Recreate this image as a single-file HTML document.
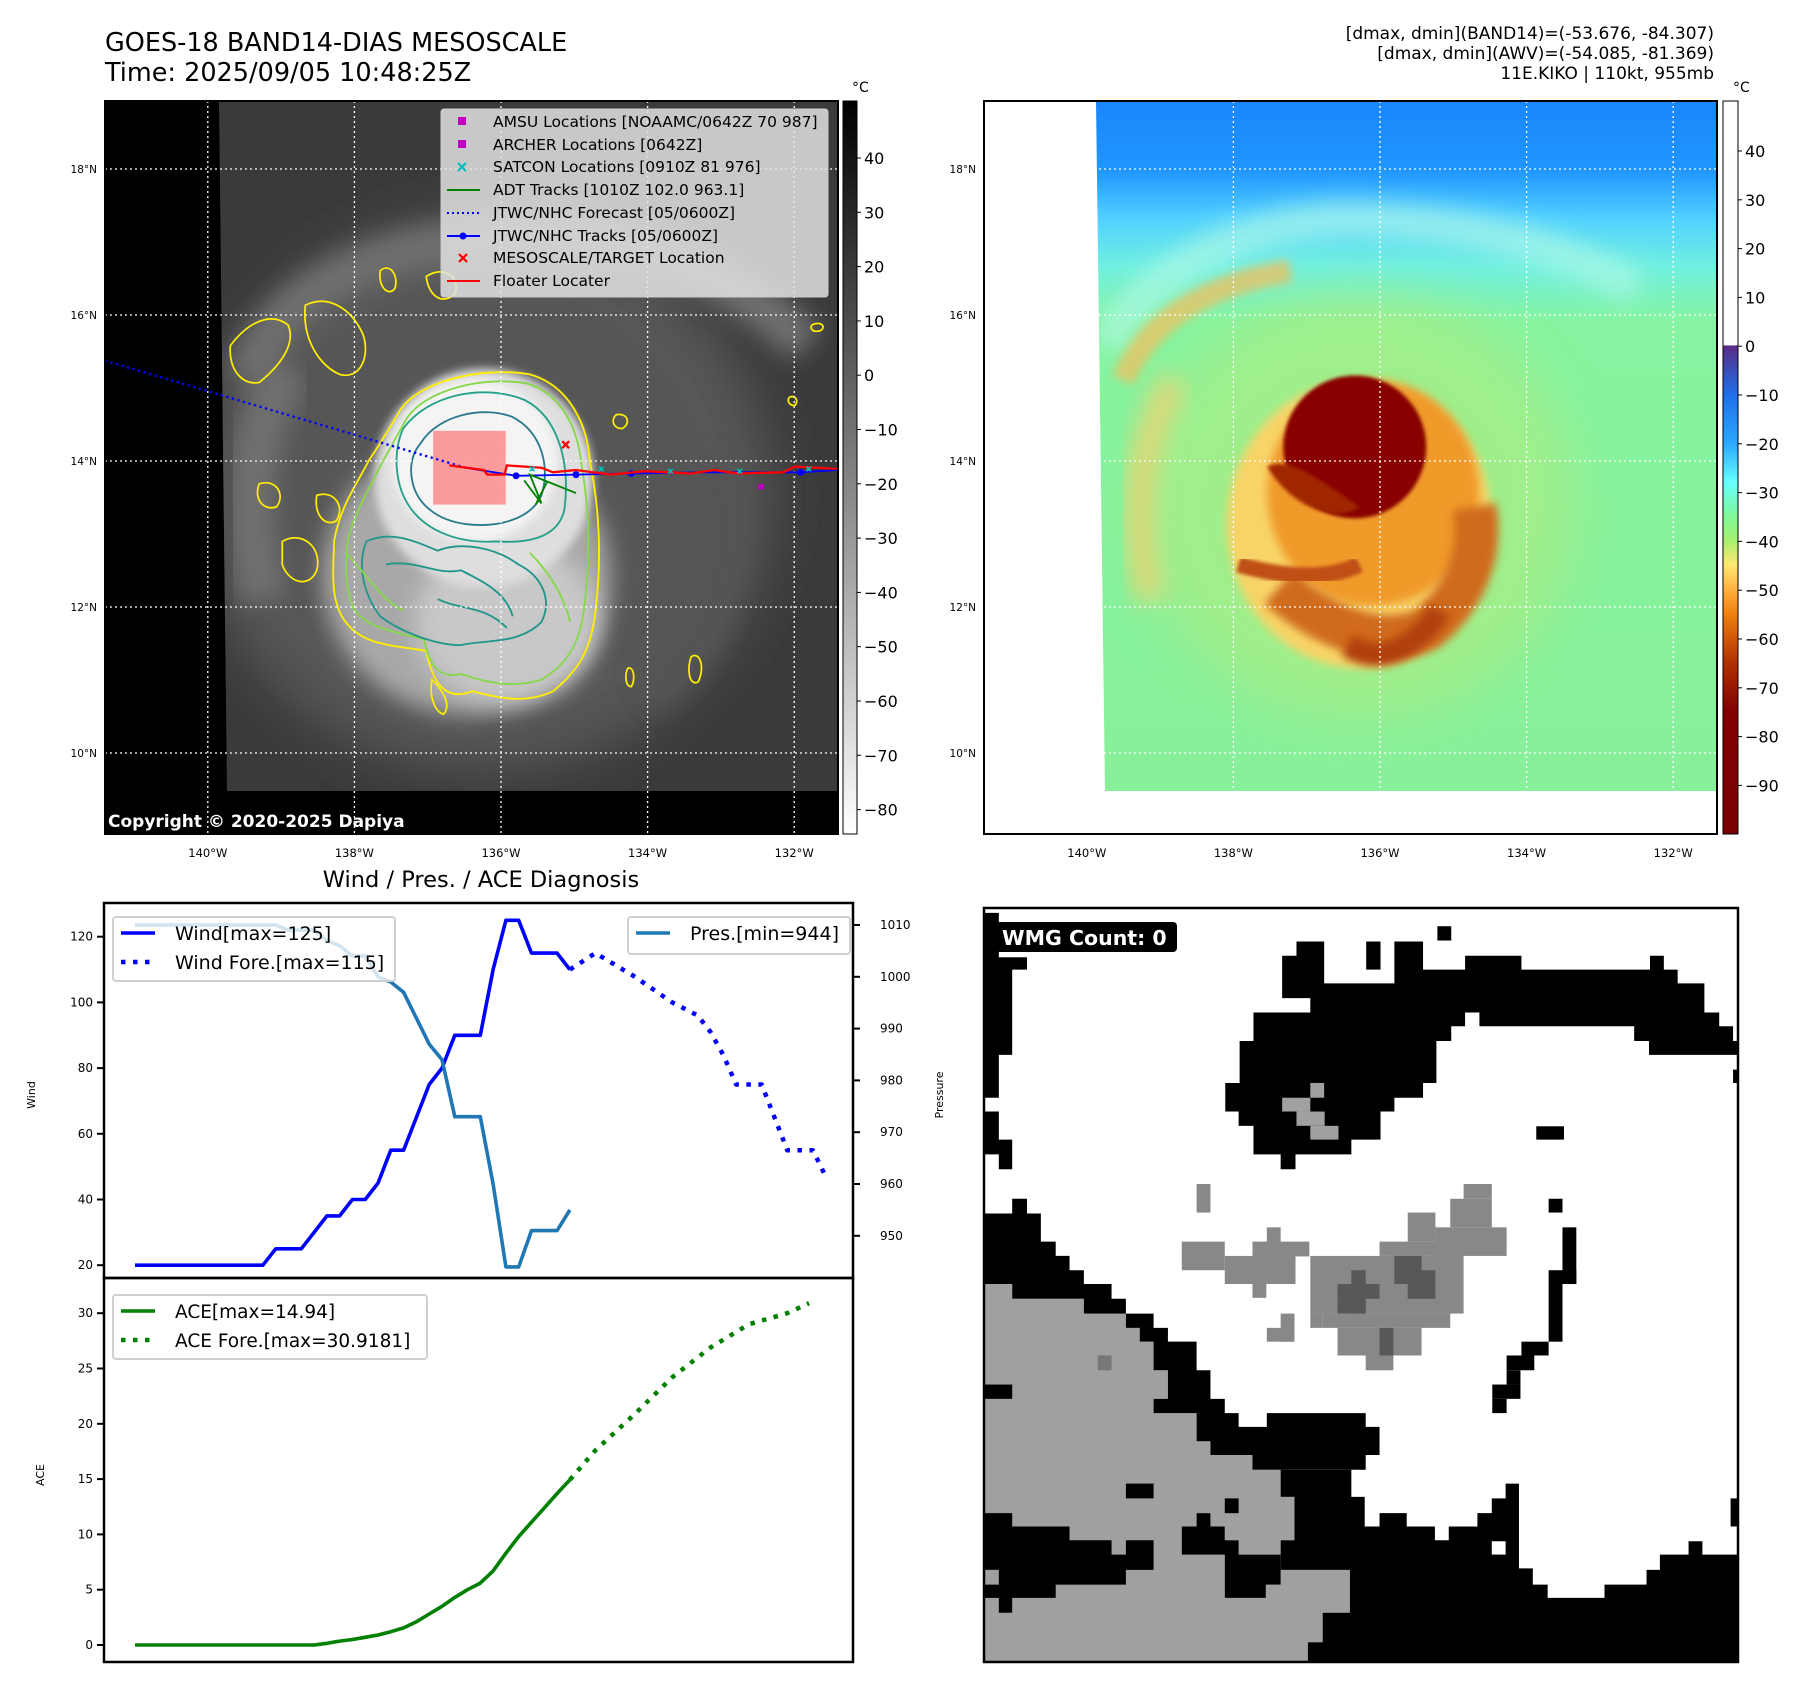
<!DOCTYPE html>
<html><head><meta charset="utf-8"><style>
html,body{margin:0;padding:0;background:#fff;}
svg{display:block;font-family:"DejaVu Sans","Liberation Sans",sans-serif;}
</style></head><body>
<svg id="root" width="1797" height="1690" viewBox="0 0 1797 1690" xmlns="http://www.w3.org/2000/svg">
<defs>
<filter id="b30" x="-50%" y="-50%" width="200%" height="200%"><feGaussianBlur stdDeviation="22"/></filter>
<filter id="b12" x="-50%" y="-50%" width="200%" height="200%"><feGaussianBlur stdDeviation="10"/></filter>
<filter id="b5" x="-50%" y="-50%" width="200%" height="200%"><feGaussianBlur stdDeviation="4"/></filter>
<filter id="b2" x="-50%" y="-50%" width="200%" height="200%"><feGaussianBlur stdDeviation="1.6"/></filter>
<linearGradient id="cb1" x1="0" y1="0" x2="0" y2="1"><stop offset="0" stop-color="#000"/><stop offset="1" stop-color="#fff"/></linearGradient>
<linearGradient id="cb2" x1="0" y1="0" x2="0" y2="1">
<stop offset="0" stop-color="#fff"/><stop offset="0.333" stop-color="#fdfdfd"/>
<stop offset="0.334" stop-color="#5a2a86"/><stop offset="0.40" stop-color="#1f6fe8"/>
<stop offset="0.467" stop-color="#2aa8ff"/><stop offset="0.52" stop-color="#66ffff"/>
<stop offset="0.567" stop-color="#80f898"/><stop offset="0.60" stop-color="#a8f070"/>
<stop offset="0.633" stop-color="#ffe870"/><stop offset="0.667" stop-color="#ffb040"/>
<stop offset="0.70" stop-color="#f08010"/><stop offset="0.767" stop-color="#b03000"/>
<stop offset="0.833" stop-color="#820000"/><stop offset="1" stop-color="#7a0000"/></linearGradient>
<linearGradient id="sky2" x1="0" y1="0" x2="0" y2="1">
<stop offset="0" stop-color="#1a86fb"/><stop offset="0.10" stop-color="#2096ff"/>
<stop offset="0.17" stop-color="#50d0ff"/><stop offset="0.24" stop-color="#70f0e0"/>
<stop offset="0.32" stop-color="#86f4a0"/><stop offset="1" stop-color="#88f09a"/></linearGradient>
<clipPath id="clip1"><polygon points="219,101 838,101 838,791 227,791"/></clipPath>
<clipPath id="clip2"><polygon points="1096,101 1716,101 1716,791 1105,791"/></clipPath>
</defs>

<text x="105" y="51" font-size="25.5">GOES-18 BAND14-DIAS MESOSCALE</text>
<text x="105" y="81" font-size="25.5">Time: 2025/09/05 10:48:25Z</text>
<g font-size="17" text-anchor="end">
<text x="1714" y="39">[dmax, dmin](BAND14)=(-53.676, -84.307)</text>
<text x="1714" y="59">[dmax, dmin](AWV)=(-54.085, -81.369)</text>
<text x="1714" y="79">11E.KIKO | 110kt, 955mb</text>
</g>

<!-- MAP 1 -->
<g>
<rect x="105" y="101" width="733" height="733" fill="#000"/>
<g clip-path="url(#clip1)">
<rect x="219" y="101" width="620" height="690" fill="#3a3a3a"/>
<g transform="scale(1.152)">
<ellipse cx="420" cy="430" rx="250" ry="240" fill="#575757" filter="url(#b30)"/>
<path d="M215,330 C240,250 330,210 460,205 C560,205 640,240 700,300" fill="none" stroke="#6e6e6e" stroke-width="38" filter="url(#b12)"/>
<path d="M230,520 C210,450 215,380 250,320" fill="none" stroke="#707070" stroke-width="40" filter="url(#b12)"/>
<path d="M560,600 C620,560 640,480 620,400" fill="none" stroke="#555" stroke-width="40" filter="url(#b12)"/>
<ellipse cx="405" cy="500" rx="125" ry="120" fill="#a8a8a8" filter="url(#b12)"/>
<ellipse cx="440" cy="540" rx="80" ry="70" fill="#c8c8c8" filter="url(#b12)"/>
<ellipse cx="420" cy="415" rx="95" ry="95" fill="#dedede" filter="url(#b5)"/>
<ellipse cx="412" cy="400" rx="72" ry="70" fill="#f4f4f4" filter="url(#b5)"/>
<g fill="none" stroke-width="1.6">
<path d="M345,360 C360,330 420,318 460,325 C495,335 510,370 512,400 C520,440 522,480 518,520 C515,560 505,580 480,600 C455,612 430,605 410,600 C385,610 375,590 370,565 C340,560 315,560 300,540 C285,520 290,490 290,470 C295,440 310,420 320,400 C330,385 338,372 345,360Z" stroke="#ffee00"/>
<path d="M352,365 C368,338 420,326 458,333 C490,343 502,375 505,405 C512,445 512,485 508,520 C505,555 495,575 470,590 C445,598 420,592 400,585 C380,590 372,575 368,555 C340,548 320,545 308,530 C298,510 300,485 302,468 C308,445 320,425 330,405 C338,390 345,378 352,365Z" stroke="#86d84a"/>
<path d="M350,372 C372,342 420,333 455,347 C485,362 495,402 490,442 C485,466 460,472 430,470 C400,472 372,462 357,442 C342,422 341,392 350,372Z" stroke="#25a08a"/>
<path d="M365,385 C380,360 420,352 445,362 C470,375 478,405 470,430 C460,452 430,458 405,455 C380,452 362,438 358,418 C355,405 358,393 365,385Z" stroke="#2a7a8e"/>
<path d="M318,470 C340,460 360,470 380,478 C400,470 430,475 450,490 C470,500 480,520 470,540 C450,560 420,555 400,560 C380,560 350,550 330,535 C315,515 310,490 318,470Z" stroke="#21968a"/>
<path d="M335,490 C360,485 380,500 400,495 C420,505 440,515 445,535 M380,520 C400,530 420,525 440,545" stroke="#21968a"/>
<path d="M300,480 C320,500 330,520 350,530 M460,480 C480,500 490,520 495,540" stroke="#86d84a"/>
</g>
<g fill="none" stroke="#ffee00" stroke-width="1.5">
<path d="M200,300 C215,280 235,270 250,282 C258,300 240,320 225,332 C210,335 198,320 200,300Z"/>
<path d="M265,265 C285,255 305,268 315,290 C322,310 312,330 295,325 C278,318 262,295 265,265Z"/>
<path d="M330,235 C338,228 346,238 343,250 C338,258 328,250 330,235Z"/>
<path d="M370,240 C385,230 400,240 395,255 C385,265 372,258 370,240Z"/>
<path d="M225,420 C240,415 248,430 240,440 C228,444 220,432 225,420Z"/>
<path d="M245,470 C262,460 280,475 275,495 C268,512 250,505 245,490Z"/>
<path d="M275,430 C290,425 300,440 292,452 C282,458 272,446 275,430Z"/>
<path d="M535,360 C545,358 548,368 540,372 C532,372 530,364 535,360Z"/>
<path d="M600,570 C608,565 612,580 606,592 C598,596 596,580 600,570Z"/>
<path d="M545,580 C550,578 552,590 548,596 C543,596 542,586 545,580Z"/>
<path d="M375,590 C385,600 392,612 385,620 C378,618 372,605 375,590Z"/>
<path d="M705,282 C712,278 718,284 712,287 C706,289 702,285 705,282Z"/>
<path d="M685,345 C690,342 694,348 690,352 C685,352 683,348 685,345Z"/>
</g>
</g>
</g>
<text x="108" y="827" font-size="17" font-weight="bold" fill="#fff">Copyright © 2020-2025 Dapiya</text>
<g id="grid1"></g>
<g transform="scale(1.152)">
<rect x="376" y="374" width="63" height="64" fill="#ff6b6b" opacity="0.65"/>
<polyline points="91,313 404,406" fill="none" stroke="#0000ff" stroke-width="2" stroke-dasharray="2 3"/>
<polyline points="404,406 448,413 500,412 548,411 610,410 695,410 727,408" fill="none" stroke="#0000ff" stroke-width="1.6"/>
<g fill="#0000ff"><circle cx="448" cy="413" r="3"/><circle cx="500" cy="412" r="3"/><circle cx="548" cy="411" r="3"/><circle cx="695" cy="410" r="3"/></g>
<polyline points="390,404 420,408 423,412 438,412 440,404 470,406 480,410 500,408 530,412 560,409 600,411 620,408 640,411 680,410 690,405 727,407" fill="none" stroke="#ff0000" stroke-width="2"/>
<polyline points="455,417 470,437 460,412 500,428 475,418 465,438" fill="none" stroke="#008000" stroke-width="1.6"/>
<g fill="none" stroke="#00bcbc" stroke-width="1.5"><path d="M460,405 l4,4 m0,-4 l-4,4 M520,405 l4,4 m0,-4 l-4,4 M580,407 l4,4 m0,-4 l-4,4 M640,407 l4,4 m0,-4 l-4,4 M700,405 l4,4 m0,-4 l-4,4"/></g>
<rect x="658" y="420" width="5" height="5" fill="#c000c0"/>
<path d="M488,383 l6,6 m0,-6 l-6,6" stroke="#ff0000" stroke-width="2"/>
</g>
<g>
<rect x="441" y="109" width="387" height="188" rx="3" fill="#e2e2e2" fill-opacity="0.85" stroke="#ccc"/>
<g font-size="15.5">
<rect x="458" y="117" width="8" height="8" fill="#c000c0"/><text x="493" y="127">AMSU Locations [NOAAMC/0642Z 70 987]</text>
<rect x="458" y="140" width="8" height="8" fill="#c000c0"/><text x="493" y="150">ARCHER Locations [0642Z]</text>
<path d="M458,163 l8,8 m0,-8 l-8,8" stroke="#00bcbc" stroke-width="2"/><text x="493" y="172">SATCON Locations [0910Z 81 976]</text>
<line x1="447" y1="190" x2="480" y2="190" stroke="#008000" stroke-width="2"/><text x="493" y="195">ADT Tracks [1010Z 102.0 963.1]</text>
<line x1="447" y1="213" x2="480" y2="213" stroke="#0000ff" stroke-width="2" stroke-dasharray="2 3"/><text x="493" y="218">JTWC/NHC Forecast [05/0600Z]</text>
<line x1="447" y1="236" x2="480" y2="236" stroke="#0000ff" stroke-width="2"/><circle cx="463" cy="236" r="3.5" fill="#0000ff"/><text x="493" y="241">JTWC/NHC Tracks [05/0600Z]</text>
<path d="M459,254 l8,8 m0,-8 l-8,8" stroke="#ff0000" stroke-width="2.2"/><text x="493" y="263">MESOSCALE/TARGET Location</text>
<line x1="447" y1="281" x2="480" y2="281" stroke="#ff0000" stroke-width="2"/><text x="493" y="286">Floater Locater</text>
</g></g>
<rect x="105" y="101" width="733" height="733" fill="none" stroke="#000" stroke-width="2"/>
</g>
<rect x="843" y="101" width="14" height="733" fill="url(#cb1)" stroke="#000" stroke-width="1"/>
<text x="852" y="92" font-size="14">°C</text>
<g id="cbt1"></g>

<!-- MAP 2 -->
<g>
<rect x="984" y="101" width="733" height="733" fill="#fff"/>
<g clip-path="url(#clip2)">
<rect x="1096" y="101" width="620" height="690" fill="url(#sky2)"/>
<g transform="scale(1.152)">
<path d="M960,300 C1000,230 1080,195 1160,190 C1250,190 1340,205 1420,250" fill="none" stroke="#b0f8e8" stroke-width="30" opacity="0.7" filter="url(#b12)"/>
<ellipse cx="1180" cy="440" rx="190" ry="185" fill="#b0ec80" opacity="0.6" filter="url(#b30)"/>
<path d="M975,330 C1000,270 1060,245 1120,235" fill="none" stroke="#f0c060" stroke-width="20" opacity="0.75" filter="url(#b5)"/>
<path d="M1000,520 C980,450 990,380 1020,330" fill="none" stroke="#f4d070" stroke-width="26" opacity="0.75" filter="url(#b12)"/>
<ellipse cx="1180" cy="455" rx="115" ry="125" fill="#f8d468" filter="url(#b5)"/>
<ellipse cx="1192" cy="428" rx="92" ry="98" fill="#f09a2c" filter="url(#b5)"/>
<path d="M1110,510 C1150,545 1200,565 1240,545 C1280,510 1285,470 1280,440" fill="none" stroke="#d06a1c" stroke-width="38" filter="url(#b5)"/>
<path d="M1075,490 C1110,500 1150,505 1180,490" fill="none" stroke="#c05018" stroke-width="14" filter="url(#b2)"/>
<path d="M1170,560 C1200,580 1230,560 1250,530" fill="none" stroke="#b04010" stroke-width="20" filter="url(#b5)"/>
<circle cx="1176" cy="388" r="62" fill="#880600" filter="url(#b2)"/>
<path d="M1100,405 C1120,395 1150,420 1180,440 C1160,455 1120,440 1100,405Z" fill="#a02800" filter="url(#b2)"/>
</g>
</g>
<g id="grid2"></g>
<rect x="984" y="101" width="733" height="733" fill="none" stroke="#000" stroke-width="2"/>
</g>
<rect x="1723" y="101" width="15" height="733" fill="url(#cb2)" stroke="#000" stroke-width="1"/>
<text x="1733" y="92" font-size="14">°C</text>
<g id="cbt2"></g>

<!-- CHART -->
<text x="481" y="887" font-size="22.5" text-anchor="middle">Wind / Pres. / ACE Diagnosis</text>
<g id="chart"></g>
<text transform="translate(35,1095) rotate(-90)" font-size="11" text-anchor="middle">Wind</text>
<text transform="translate(943,1095) rotate(-90)" font-size="11" text-anchor="middle">Pressure</text>
<text transform="translate(44,1475) rotate(-90)" font-size="11" text-anchor="middle">ACE</text>

<!-- WMG -->
<g>
<svg x="984" y="908" width="754" height="754" viewBox="0 0 1525 1530" preserveAspectRatio="none">
<rect width="1525" height="1530" fill="#fff"/>
<polygon fill="#a0a0a0" points="0,763 57,763 57,793 202,793 202,823 287,823 287,852 315,852 315,880 343,880 343,938 372,938 372,996 343,996 343,1025 430,1025 430,1082 458,1082 458,1110 543,1110 543,1140 600,1140 600,1195 628,1195 628,1283 600,1283 600,1312 515,1312 515,1283 487,1283 487,1255 458,1255 458,1228 430,1228 430,1255 400,1255 400,1312 487,1312 487,1400 570,1400 570,1373 600,1373 600,1343 740,1343 740,1430 685,1430 685,1490 655,1490 655,1530 0,1530"/>
<g fill="#000">
<polygon points="603,97 632,97 632,68 688,68 688,153 830,153 830,68 888,68 888,125 973,125 973,97 1087,97 1087,125 1347,125 1347,97 1375,97 1375,125 1403,125 1403,153 1457,153 1457,212 1487,212 1487,240 1515,240 1515,270 1525,270 1525,298 1345,298 1345,270 1315,270 1315,240 1002,240 1002,212 973,212 973,240 945,240 945,270 915,270 915,355 888,355 888,385 830,385 830,413 802,413 802,470 743,470 743,500 630,500 630,530 600,530 600,500 545,500 545,442 515,442 515,413 488,413 488,355 517,355 517,270 545,270 545,212 660,212 660,183 603,183"/>
<rect x="773" y="68" width="29" height="57"/><rect x="917" y="37" width="28" height="29"/>
<polygon points="0,10 30,10 30,100 87,100 87,125 57,125 57,298 30,298 30,385 0,385"/>
<polygon points="0,413 30,413 30,470 57,470 57,530 30,530 30,500 0,500"/>
<polygon points="0,620 57,620 57,590 87,590 87,620 115,620 115,677 145,677 145,706 173,706 173,735 202,735 202,763 258,763 258,793 287,793 287,823 343,823 343,852 372,852 372,880 430,880 430,938 458,938 458,996 487,996 487,1025 515,1025 515,1053 572,1053 572,1025 772,1025 772,1053 800,1053 800,1110 772,1110 772,1140 543,1140 543,1110 458,1110 458,1082 430,1082 430,1025 343,1025 343,996 372,996 372,938 343,938 343,880 315,880 315,852 287,852 287,823 202,823 202,793 57,793 57,763 0,763"/>
<polygon points="600,1140 743,1140 743,1195 770,1195 770,1255 800,1255 800,1228 855,1228 855,1255 912,1255 912,1283 940,1283 940,1255 998,1255 998,1228 1027,1228 1027,1198 1055,1198 1055,1168 1082,1168 1082,1340 1110,1340 1110,1373 1140,1373 1140,1400 1255,1400 1255,1373 1340,1373 1340,1343 1367,1343 1367,1312 1425,1312 1425,1285 1453,1285 1453,1312 1525,1312 1525,1530 655,1530 655,1490 685,1490 685,1430 740,1430 740,1343 600,1343 600,1283 628,1283 628,1195 600,1195"/>
<polygon points="0,1228 57,1228 57,1255 173,1255 173,1283 258,1283 258,1312 287,1312 287,1283 343,1283 343,1343 287,1343 287,1373 145,1373 145,1400 57,1400 57,1430 30,1430 30,1400 0,1400"/>
<polygon points="400,1255 430,1255 430,1228 458,1228 458,1255 487,1255 487,1283 515,1283 515,1312 600,1312 600,1373 570,1373 570,1400 487,1400 487,1312 400,1312"/>
<rect x="287" y="1168" width="56" height="30"/><rect x="487" y="1198" width="28" height="30"/><rect x="0" y="967" width="57" height="29"/>
<rect x="1170" y="648" width="28" height="115"/><rect x="1142" y="735" width="56" height="28"/><rect x="1142" y="763" width="28" height="117"/>
<rect x="1087" y="880" width="55" height="28"/><rect x="1057" y="908" width="56" height="30"/><rect x="1057" y="938" width="28" height="29"/>
<rect x="1028" y="967" width="57" height="29"/><rect x="1028" y="996" width="29" height="29"/>
<rect x="1117" y="443" width="56" height="27"/><rect x="1142" y="590" width="28" height="28"/>
<rect x="1515" y="328" width="10" height="27"/><rect x="1510" y="1198" width="15" height="57"/>
</g>
<rect x="1027" y="1285" width="28" height="27" fill="#fff"/>
<rect x="0" y="1343" width="30" height="30" fill="#a0a0a0"/>
<g fill="#a0a0a0"><rect x="660" y="355" width="28" height="30"/><rect x="603" y="385" width="57" height="28"/><rect x="632" y="413" width="57" height="29"/><rect x="660" y="442" width="57" height="28"/></g>
<rect x="230" y="908" width="28" height="30" fill="#777"/>
<g fill="#888">
<rect x="430" y="560" width="28" height="58"/><rect x="400" y="677" width="87" height="58"/><rect x="487" y="706" width="143" height="57"/>
<rect x="543" y="677" width="115" height="30"/><rect x="572" y="648" width="28" height="30"/><rect x="543" y="763" width="28" height="28"/>
<rect x="600" y="823" width="28" height="57"/><rect x="572" y="852" width="56" height="28"/>
<rect x="660" y="706" width="310" height="117"/><rect x="685" y="823" width="258" height="29"/><rect x="715" y="852" width="170" height="56"/>
<rect x="772" y="908" width="56" height="30"/><rect x="800" y="677" width="170" height="29"/><rect x="857" y="618" width="56" height="59"/>
<rect x="943" y="590" width="84" height="58"/><rect x="970" y="560" width="57" height="30"/><rect x="913" y="648" width="144" height="58"/>
<rect x="660" y="823" width="25" height="29"/>
</g>
<g fill="#585858"><rect x="715" y="763" width="85" height="30"/><rect x="743" y="735" width="29" height="88"/><rect x="715" y="793" width="57" height="30"/><rect x="830" y="706" width="55" height="57"/><rect x="857" y="735" width="56" height="58"/><rect x="800" y="852" width="28" height="56"/></g>
</svg>
<rect x="984" y="908" width="754" height="754" fill="none" stroke="#000" stroke-width="2.5"/>
<rect x="996" y="922" width="181" height="30" rx="4" fill="#000"/>
<text x="1002" y="945" font-size="20.5" font-weight="bold" fill="#fff">WMG Count: 0</text>
</g>
</svg>

<script>
const windObs = [20,20,20,20,20,20,20,20,20,20,20,25,25,25,30,35,35,40,40,45,55,55,65,75,80,90,90,90,110,125,125,115,115,115,110];
const windFcstT = [34,36,39,42,44,45,46,47,49,50,51,53,54];
const windFcstV = [110,115,108,100,96,91,84,75,75,65,55,55,47];
const presObs = [1010,1010,1010,1010,1010,1010,1010,1010,1010,1010,1010,1010,1009,1009,1009,1007,1006,1004,1004,1000,999,997,992,987,984,973,973,973,960,944,944,951,951,951,955];
const aceObs = [0,0,0,0,0,0,0,0,0,0,0,0,0,0,0,0.15,0.35,0.5,0.7,0.9,1.2,1.55,2.1,2.8,3.5,4.3,5.0,5.6,6.7,8.3,9.8,11.1,12.4,13.7,14.94];
const aceFcstT = [34,36,39,42,45,48,51,52.7];
const aceFcstV = [14.94,17.6,20.8,24.2,26.9,29.0,30.0,30.9];
const windTicks = [20,40,60,80,100,120];
const presTicks = [950,960,970,980,990,1000,1010];
const aceTicks = [0,5,10,15,20,25,30];
const latTicks = ['18°N','16°N','14°N','12°N','10°N'];
const latVals = [18,16,14,12,10];
const lonTicks = ['140°W','138°W','136°W','134°W','132°W'];
const lonVals = [-140,-138,-136,-134,-132];
const cb1Ticks = [40,30,20,10,0,-10,-20,-30,-40,-50,-60,-70,-80];
const cb2Ticks = [40,30,20,10,0,-10,-20,-30,-40,-50,-60,-70,-80,-90];

const NS='http://www.w3.org/2000/svg';
function mk(tag, attrs, parent){const e=document.createElementNS(NS,tag);for(const k in attrs)e.setAttribute(k,attrs[k]);if(parent)parent.appendChild(e);return e;}
const xS = i => 135 + i*12.79;
const yW = v => 936.7 + (120-v)*3.285;
const yP = p => 925 + (1010-p)*5.18;
const yA = a => 1645 - a*11.06;
const latY = lat => 461 + (14-lat)*73.0;
const lonX = lon => 501 + (lon+136)*73.3;
const cb1Y = v => 158 + (40-v)*5.43;
const cb2Y = v => 151 + (40-v)*4.88;

const chart = document.getElementById('chart');
mk('rect',{x:104,y:903,width:749,height:375,fill:'#fff'},chart);
mk('rect',{x:104,y:1278,width:749,height:384,fill:'#fff'},chart);
function line(pts,color,w,dash,name){
  const p = mk('polyline',{points:pts.map(q=>q[0].toFixed(1)+','+q[1].toFixed(1)).join(' '),fill:'none',stroke:color,'stroke-width':w,'stroke-linejoin':'round'},chart);
  if(dash)p.setAttribute('stroke-dasharray',dash);
  
  
  return p;
}
line(windObs.map((v,i)=>[xS(i),yW(v)]),'#0000ff',3.6,null,'wind-line');
line(windFcstT.map((t,i)=>[xS(t),yW(windFcstV[i])]),'#0000ff',4.5,'4.5 7.5','wind-forecast-line');
line(presObs.map((v,i)=>[xS(i),yP(v)]),'#1f77b4',3.6,null,'pressure-line');
line(aceObs.map((v,i)=>[xS(i),yA(v)]),'#008000',3.6,null,'ace-line');
line(aceFcstT.map((t,i)=>[xS(t),yA(aceFcstV[i])]),'#008000',4.5,'4.5 7.5','ace-forecast-line');

windTicks.forEach(v=>{const y=yW(v);
  mk('line',{x1:97,x2:104,y1:y,y2:y,stroke:'#000','stroke-width':2},chart);
  const t=mk('text',{x:93,y:y+4,'font-size':12,'text-anchor':'end'},chart);t.textContent=v;
  
  });
presTicks.forEach(v=>{const y=yP(v);
  mk('line',{x1:853,x2:860,y1:y,y2:y,stroke:'#000','stroke-width':2},chart);
  const t=mk('text',{x:880,y:y+4,'font-size':12},chart);t.textContent=v;
  
  });
aceTicks.forEach(v=>{const y=yA(v);
  mk('line',{x1:97,x2:104,y1:y,y2:y,stroke:'#000','stroke-width':2},chart);
  const t=mk('text',{x:93,y:y+4,'font-size':12,'text-anchor':'end'},chart);t.textContent=v;
  
  });
mk('rect',{x:104,y:903,width:749,height:375,fill:'none',stroke:'#000','stroke-width':2.5},chart);
mk('rect',{x:104,y:1278,width:749,height:384,fill:'none',stroke:'#000','stroke-width':2.5},chart);

function legend(x,y,w,h,items,name,fs){
  const g=mk('g',{},chart);
  
  
  mk('rect',{x:x,y:y,width:w,height:h,rx:3,fill:'#fff','fill-opacity':0.8,stroke:'#d0d0d0','stroke-width':2},g);
  items.forEach((it,k)=>{const cy=y+16+k*29;
    const l=mk('line',{x1:x+8,x2:x+42,y1:cy,y2:cy,stroke:it.c,'stroke-width':it.d?4.5:3.6},g);
    if(it.d)l.setAttribute('stroke-dasharray','4.5 7.5');
    const t=mk('text',{x:x+62,y:cy+7,'font-size':fs},g);t.textContent=it.t;});
}
legend(113,917,282,64,[{c:'#0000ff',t:'Wind[max=125]'},{c:'#0000ff',t:'Wind Fore.[max=115]',d:1}],'wind-legend',19);
legend(628,917,222,37,[{c:'#1f77b4',t:'Pres.[min=944]'}],'pressure-legend',19);
legend(113,1295,314,64,[{c:'#008000',t:'ACE[max=14.94]'},{c:'#008000',t:'ACE Fore.[max=30.9181]',d:1}],'ace-legend',18.5);

function grid(gid,dx){
  const g=document.getElementById(gid);
  latVals.forEach((lat,k)=>{const y=latY(lat);
    mk('line',{x1:105+dx,x2:838+dx,y1:y,y2:y,stroke:'#fff','stroke-width':1.3,'stroke-dasharray':'2 3'},g);
    const t=mk('text',{x:97+dx,y:y+4,'font-size':10.5,'text-anchor':'end'},g);t.textContent=latTicks[k];
    
    });
  lonVals.forEach((lon,k)=>{const x=lonX(lon)+dx;
    mk('line',{x1:x,x2:x,y1:101,y2:834,stroke:'#fff','stroke-width':1.3,'stroke-dasharray':'2 3'},g);
    const t=mk('text',{x:x,y:857,'font-size':11.5,'text-anchor':'middle'},g);t.textContent=lonTicks[k];
    
    });
}
grid('grid1',0); grid('grid2',879);
function cbticks(gid,ticks,fy,x0){
  const g=document.getElementById(gid);
  ticks.forEach(v=>{const y=fy(v);
    mk('line',{x1:x0,x2:x0+4,y1:y,y2:y,stroke:'#000','stroke-width':1},g);
    const t=mk('text',{x:x0+7,y:y+6,'font-size':16},g);t.textContent=(v<0?'\u2212'+(-v):v);
    
    });
}
cbticks('cbt1',cb1Ticks,cb1Y,857);
cbticks('cbt2',cb2Ticks,cb2Y,1738);
</script>
</body></html>
